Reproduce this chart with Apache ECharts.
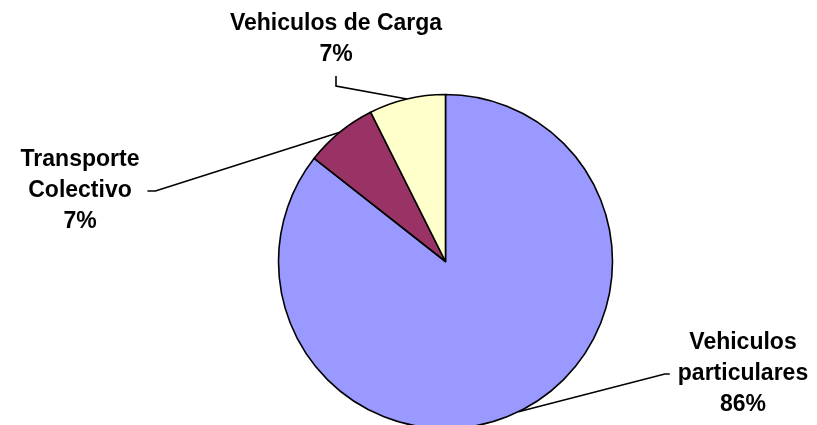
<!DOCTYPE html>
<html>
<head>
<meta charset="utf-8">
<script src="https://cdn.jsdelivr.net/npm/echarts@6/dist/echarts.min.js"></script>
<style>
html,body{margin:0;padding:0;background:#fff;}
#chart{width:817px;height:425px;}
</style>
</head>
<body>
<div id="chart"></div>
<script>
// Data (clockwise from 12 o'clock)
const categories = ['Vehiculos\nparticulares', 'Transporte\nColectivo', 'Vehiculos de Carga'];
const values = [85.6, 7.0, 7.4];
const colors = ['#9999FF', '#993366', '#FFFFCC'];

// Label placement (layout only)
const labelPlaces = [
  { x: 743, y: 374, side: 'left' },
  { x: 80, y: 191, side: 'right' },
  { x: 336, y: 39, side: 'bottom' }
];

const chart = echarts.init(document.getElementById('chart'), null, { renderer: 'canvas' });

const option = {
  animation: false,
  backgroundColor: '#ffffff',
  series: [{
    type: 'pie',
    center: [445.5, 261.5],
    radius: 167,
    startAngle: 90,
    clockwise: true,
    avoidLabelOverlap: false,
    emphasis: { disabled: true },
    data: categories.map((c, i) => ({
      name: c,
      value: values[i],
      itemStyle: { color: colors[i] }
    })),
    itemStyle: { borderColor: '#000', borderWidth: 1.6 },
    label: {
      show: true,
      position: 'outside',
      formatter: p => p.name + '\n' + Math.round(p.percent) + '%',
      fontFamily: '"Liberation Sans", Arial, sans-serif',
      fontWeight: 'bold',
      fontSize: 23,
      lineHeight: 31,
      color: '#000',
      align: 'center'
    },
    labelLine: {
      show: true,
      smooth: false,
      length: 10,
      length2: 10,
      lineStyle: { color: '#000', width: 1.6 }
    },
    labelLayout: function (params) {
      const pl = labelPlaces[params.dataIndex];
      const w = params.labelRect.width;
      const h = params.labelRect.height;
      const start = params.labelLinePoints ? params.labelLinePoints[0] : [pl.x, pl.y];
      let end, bend;
      if (pl.side === 'left') {
        end = [pl.x - w / 2 - 8, pl.y];
        bend = [end[0] - 5, pl.y];
      } else if (pl.side === 'right') {
        end = [pl.x + w / 2 + 8, pl.y];
        bend = [end[0] + 8, pl.y];
      } else {
        end = [pl.x, pl.y + h / 2 + 6];
        bend = [pl.x, end[1] + 10];
      }
      return {
        x: pl.x,
        y: pl.y,
        align: 'center',
        verticalAlign: 'middle',
        labelLinePoints: [start, bend, end]
      };
    }
  }]
};
chart.setOption(option);
</script>
</body>
</html>
